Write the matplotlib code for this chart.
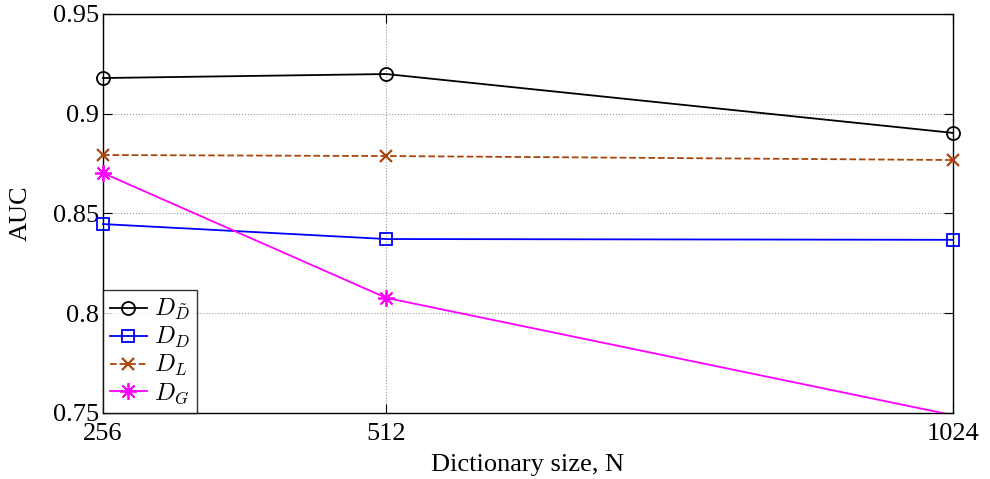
import matplotlib
matplotlib.use('Agg')
import matplotlib.pyplot as plt

plt.rcParams['font.family'] = 'Liberation Serif'
plt.rcParams['mathtext.fontset'] = 'cm'

# dictionary sizes
sizes = [256, 512, 1024]
auc_dtilde = [0.9179, 0.9199, 0.8904]
auc_d = [0.8447, 0.8372, 0.8368]
auc_l = [0.8793, 0.8788, 0.8768]
auc_g = [0.8703, 0.8077, 0.7489]

fig = plt.figure(figsize=(9.9, 4.79), dpi=100)
ax = fig.add_axes([0.104, 0.1378, 0.8586, 0.833])

lw = 1.3
star = (8, 2, 0)  # asterisk, as in MATLAB
ax.plot(sizes, auc_dtilde, '-o', color='black', lw=lw, ms=9.4, mfc='none', mew=lw,
        label=r'$D_{\tilde{D}}$', clip_on=False, zorder=3)
ax.plot(sizes, auc_d, '-s', color='#0000ff', lw=lw, ms=8.4, mfc='none', mew=lw,
        label=r'$D_D$', clip_on=False, zorder=3)
ax.plot(sizes, auc_l, '--x', color='#a8460e', lw=lw, ms=8, mew=lw + 0.3,
        label=r'$D_L$', clip_on=False, zorder=3)
# last point lies below the axis range: line clipped, marker hidden
ax.plot(sizes, auc_g, '-', color='#ff00ff', lw=lw, zorder=3)
ax.plot(sizes[:2], auc_g[:2], ls='none', marker=star, color='#ff00ff', ms=12,
        mew=1.3, clip_on=False, zorder=3)
ax.plot([], [], '-', marker=star, color='#ff00ff', lw=lw, ms=12, mew=1.3,
        label=r'$D_G$')

ax.set_xlim(256, 1024)
ax.set_ylim(0.75, 0.95)
ax.set_xticks(sizes)
ax.set_xticklabels(['256', '512', '1024'])
ax.set_yticks([0.75, 0.8, 0.85, 0.9, 0.95])
ax.set_yticklabels(['0.75', '0.8', '0.85', '0.9', '0.95'])
ax.tick_params(direction='in', top=True, right=True, labelsize=19, length=6.5, width=0.8)
ax.tick_params(axis='x', pad=7)
ax.tick_params(axis='y', pad=3)
ax.grid(True, linestyle=':', color='#9a9a9a', lw=0.8)
for s in ax.spines.values():
    s.set_linewidth(1.0)

ax.set_xlabel('Dictionary size, N', fontsize=19, labelpad=7)
ax.set_ylabel('AUC', fontsize=19, labelpad=15)

leg = ax.legend(loc='lower left', fontsize=17.5, frameon=True, fancybox=False,
                edgecolor='black', borderaxespad=0, handlelength=1.5,
                handletextpad=0.3, borderpad=0.3, labelspacing=0.12)
leg.get_frame().set_linewidth(1.0)

fig.savefig('out.png', dpi=100)
